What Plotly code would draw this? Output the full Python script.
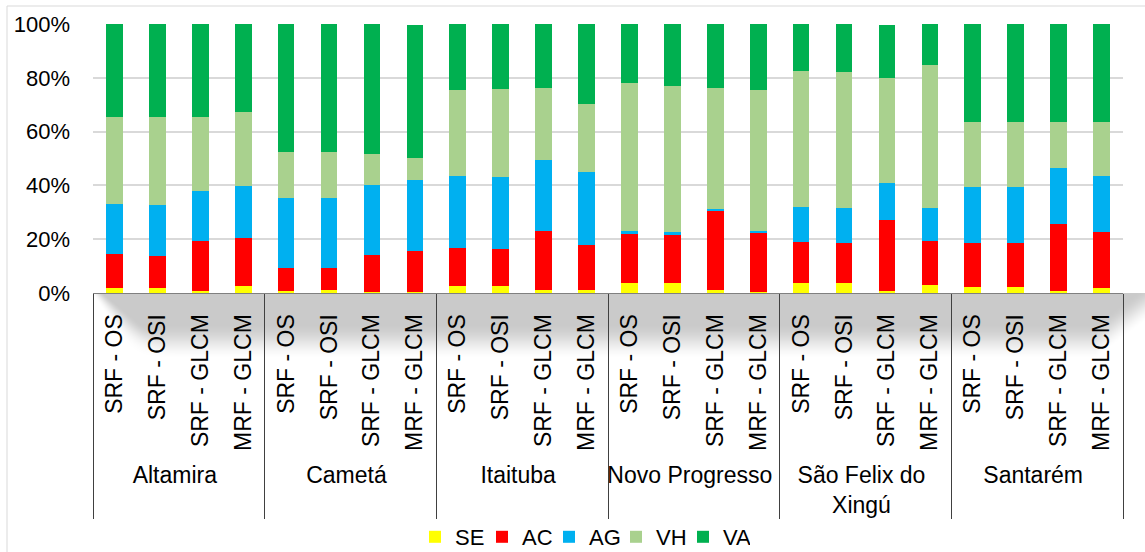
import base64
import struct
import zlib

import numpy as np
import plotly.graph_objects as go

# ---- data: share (%) of each class per municipality and classifier ----
groups = ["Altamira", "Cametá", "Itaituba", "Novo Progresso", "São Felix do<br>Xingú", "Santarém"]
methods = ["SRF - OS", "SRF - OSI", "SRF - GLCM", "MRF - GLCM"]

SE = [1.9, 1.9, 0.7, 2.5,   0.7, 1.1, 0.2, 0.2,   2.5, 2.5, 1.1, 1.1,
      3.9, 3.9, 1.1, 0.5,   3.6, 3.6, 0.7, 2.9,   2.1, 2.1, 0.7, 1.9]
AC = [12.6, 12.0, 18.6, 17.9,   8.6, 8.2, 14.1, 15.6,   14.3, 13.8, 21.8, 16.7,
      18.2, 17.8, 29.2, 22.0,   15.3, 14.9, 26.6, 16.4,   16.4, 16.4, 25.0, 20.6]
AG = [18.7, 18.9, 18.5, 19.2,   26.0, 26.0, 25.9, 26.2,   26.7, 26.8, 26.5, 27.0,
      1.1, 0.9, 1.1, 0.7,   13.1, 13.2, 13.7, 12.4,   21.0, 21.0, 20.6, 21.0]
VH = [32.3, 32.7, 27.7, 27.6,   17.0, 17.0, 11.4, 8.2,   31.9, 32.7, 26.7, 25.6,
      54.7, 54.5, 44.7, 52.2,   50.5, 50.4, 39.0, 53.0,   24.2, 23.9, 17.1, 20.2]
VA = [34.5, 34.5, 34.5, 32.8,   47.7, 47.7, 48.4, 49.4,   24.6, 24.2, 23.9, 29.6,
      22.1, 22.9, 23.9, 24.6,   17.5, 17.9, 19.6, 15.3,   36.3, 36.6, 36.6, 36.3]

y_ticks = [0, 20, 40, 60, 80, 100]
y_labels = ["0%", "20%", "40%", "60%", "80%", "100%"]

series = [("SE", SE, "#FFFF00"), ("AC", AC, "#FF0000"), ("AG", AG, "#00B0F0"),
          ("VH", VH, "#A9D18E"), ("VA", VA, "#00B050")]

x_outer = [g for g in groups for _ in methods]
x_inner = [m for _ in groups for m in methods]

# ---- figure geometry (pixels) ----
W, H = 1145, 552
ML, MR, MT, MB = 93, 22, 24, 259
PW, PH = W - ML - MR, H - MT - MB


def px_x(p):
    return (p - ML) / PW


def px_y(p):
    return (H - MB - p) / PH


def png_data_uri(rgba):
    h, w, _ = rgba.shape
    raw = b"".join(b"\x00" + rgba[r].tobytes() for r in range(h))

    def chunk(tag, data):
        c = struct.pack(">I", len(data)) + tag + data
        return c + struct.pack(">I", zlib.crc32(tag + data) & 0xFFFFFFFF)

    png = (b"\x89PNG\r\n\x1a\n"
           + chunk(b"IHDR", struct.pack(">IIBBBBB", w, h, 8, 6, 0, 0, 0))
           + chunk(b"IDAT", zlib.compress(raw, 9))
           + chunk(b"IEND", b""))
    return "data:image/png;base64," + base64.b64encode(png).decode()


def smooth(t):
    t = np.clip(t, 0.0, 1.0)
    return t * t * (3 - 2 * t)


# soft drop shadow under the category axis
sx0, sy0, sw, sh = 80, 293, W - 80, 80
yy, xx = np.mgrid[0:sh, 0:sw].astype(float)
gx, gy = xx + sx0, yy + sy0
edge = 99 + (gy - 295) * 0.93
width = 12 + (gy - 293) * 0.6
left = smooth((gx - edge) / width + 0.5)
y_b = np.where(gx < 1095, 343.0, 343.0 - (gx - 1095) * 0.75)
vert = smooth((y_b + 17 - gy) / 37)
alpha = (left * vert * 0.42 * 255).astype(np.uint8)
shadow = np.zeros((sh, sw, 4), dtype=np.uint8)
shadow[..., :3] = 128
shadow[..., 3] = alpha

fig = go.Figure()
for name, vals, color in series:
    fig.add_trace(go.Bar(
        x=[x_outer, x_inner], y=vals, name=name,
        marker=dict(color=color, line=dict(width=0)),
    ))

fig.update_layout(
    width=W, height=H,
    margin=dict(l=ML, r=MR, t=MT, b=MB, pad=0, autoexpand=False),
    barmode="stack", bargap=0.61,
    paper_bgcolor="white", plot_bgcolor="white",
    font=dict(family="Liberation Sans, Arial, sans-serif", color="#000000"),
    showlegend=True,
    legend=dict(orientation="h", x=px_x(415), xanchor="left", y=px_y(537), yanchor="middle",
                font=dict(size=22), entrywidth=22, itemwidth=30,
                bgcolor="rgba(0,0,0,0)", traceorder="normal"),
    xaxis=dict(
        type="multicategory", tickangle=-90, tickfont=dict(size=23),
        showline=True, linecolor="#808080", linewidth=1,
        showdividers=True, dividercolor="#404040", dividerwidth=1,
        ticks="", showgrid=False, automargin=False, ticklabelstandoff=11,
    ),
    yaxis=dict(
        range=[0, 100], tickmode="array", tickvals=y_ticks, ticktext=y_labels,
        tickfont=dict(size=22), ticks="", showgrid=False, zeroline=False,
        showline=False, ticklabelstandoff=22, automargin=False,
        minor=dict(tickvals=[20, 40, 60, 80], showgrid=True, gridcolor="#d9d9d9", gridwidth=1.5,
                   ticks=""),
    ),
    images=[dict(source=png_data_uri(shadow), xref="paper", yref="paper",
                 x=px_x(sx0), y=px_y(sy0), sizex=sw / PW, sizey=sh / PH,
                 xanchor="left", yanchor="top", sizing="stretch", layer="below")],
    shapes=[dict(type="rect", xref="paper", yref="paper",
                 x0=px_x(7), x1=px_x(W + 40), y0=px_y(6), y1=px_y(H + 40),
                 line=dict(color="#d9d9d9", width=1), fillcolor="rgba(0,0,0,0)", layer="below")],
)

fig.write_html("out.html")
